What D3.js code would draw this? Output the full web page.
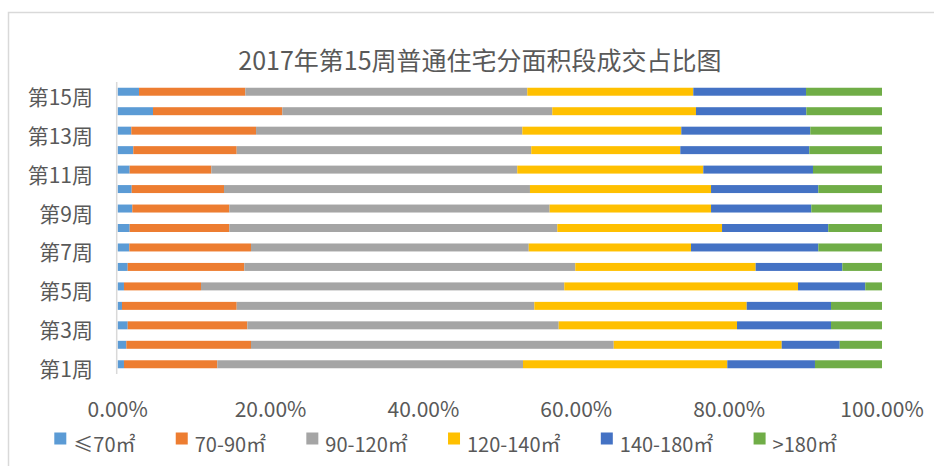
<!DOCTYPE html>
<html>
<head>
<meta charset="utf-8">
<script src="https://cdn.jsdelivr.net/npm/d3@7"></script>
<style>
  html, body { margin: 0; padding: 0; background: #fff; }
  svg text { font-family: "Noto Sans CJK SC", "Noto Sans", sans-serif; fill: #595959; }
</style>
</head>
<body>
<svg width="934" height="466"></svg>
<script>
// weeks, bottom (第1周) to top (第15周)
const weeks = ['第1周','第2周','第3周','第4周','第5周','第6周','第7周','第8周',
               '第9周','第10周','第11周','第12周','第13周','第14周','第15周'];
const seriesNames = ['≤70㎡', '70-90㎡', '90-120㎡', '120-140㎡', '140-180㎡', '>180㎡'];
const colors = ['#5B9BD5', '#ED7D31', '#A5A5A5', '#FFC000', '#4472C4', '#70AD47'];

// share per week (%), same order as weeks
const s70     = [0.82, 1.13, 1.31, 0.56, 0.82, 1.31, 1.52, 1.57, 1.91, 1.83, 1.57, 2.04, 1.78, 4.62, 2.79];
const s70_90  = [12.21, 16.31, 15.65, 15.01, 10.08, 15.25, 15.92, 13.03, 12.69, 12.08, 10.68, 13.53, 16.32, 16.92, 13.91];
const s90_120 = [40.00, 47.46, 40.74, 38.94, 47.53, 43.31, 36.34, 42.92, 41.92, 40.03, 40.03, 38.54, 34.84, 35.32, 36.89];
const s120_140= [26.73, 21.98, 23.33, 27.79, 30.58, 23.60, 21.23, 21.55, 21.11, 23.69, 24.34, 19.50, 20.80, 18.80, 21.72];
const s140_180= [11.47, 7.59, 12.30, 11.03, 8.80, 11.34, 16.66, 13.90, 13.12, 14.04, 14.35, 16.88, 16.88, 14.44, 14.75];
const s180    = [8.77, 5.53, 6.67, 6.67, 2.19, 5.19, 8.33, 7.03, 9.25, 8.33, 9.03, 9.51, 9.38, 9.90, 9.94];

const xTicks = [0, 0.2, 0.4, 0.6, 0.8, 1];

/*
 * build stacked rows (normalised to 100%)
 */
const allSeries = [s70, s70_90, s90_120, s120_140, s140_180, s180];
const rows = weeks.map(function(w, i) {
  const row = { week: w };
  let total = 0;
  allSeries.forEach(function(s) { total += s[i]; });
  seriesNames.forEach(function(n, k) { row[n] = allSeries[k][i] / total; });
  return row;
});
const stacked = d3.stack().keys(seriesNames)(rows);

const $svg = d3.select('svg');

// chart frame
$svg.append('rect')
  .attr('x', 8.5).attr('y', 12.5)
  .attr('width', 940).attr('height', 470)
  .attr('fill', 'none')
  .attr('stroke', '#d9d9d9')
  .attr('stroke-width', 1.5);

// title
$svg.append('text')
  .attr('x', 480).attr('y', 70)
  .attr('text-anchor', 'middle')
  .style('font-size', '25px')
  .text('2017年第15周普通住宅分面积段成交占比图');

const x = d3.scaleLinear().domain([0, 1]).range([117.7, 882]);
const y = d3.scaleBand()
  .domain(weeks.slice().reverse())
  .range([82, 374])
  .paddingInner(0.59)
  .paddingOuter(0.295);

// bars
const $layers = $svg.append('g').selectAll('g')
  .data(stacked)
  .enter().append('g')
    .attr('fill', function(d, i) { return colors[i]; });

$layers.selectAll('rect')
  .data(function(d) { return d; })
  .enter().append('rect')
    .attr('x', function(d) { return x(d[0]); })
    .attr('width', function(d) { return x(d[1]) - x(d[0]); })
    .attr('y', function(d) { return y(d.data.week); })
    .attr('height', y.bandwidth());

// y axis line
$svg.append('line')
  .attr('x1', 116.7).attr('x2', 116.7)
  .attr('y1', 82).attr('y2', 374)
  .attr('stroke', '#d9d9d9')
  .attr('stroke-width', 1.5);

// y labels (every other week)
$svg.append('g').selectAll('text')
  .data(weeks.filter(function(w, i) { return i % 2 === 0; }))
  .enter().append('text')
    .attr('x', 93)
    .attr('y', function(d) { return y(d) + y.bandwidth() / 2 + 13; })
    .attr('text-anchor', 'end')
    .style('font-size', '21px')
    .text(function(d) { return d; });

// x tick labels
$svg.append('g').selectAll('text')
  .data(xTicks)
  .enter().append('text')
    .attr('x', function(d) { return x(d); })
    .attr('y', 417)
    .attr('text-anchor', 'middle')
    .style('font-size', '21px')
    .text(d3.format('.2%'));

// legend
const $legend = $svg.append('g');
const $items = $legend.selectAll('g')
  .data(seriesNames)
  .enter().append('g');

$items.append('rect')
  .attr('width', 12).attr('height', 12)
  .attr('y', 432.5)
  .attr('fill', function(d, i) { return colors[i]; });

$items.append('text')
  .attr('x', 19)
  .attr('y', 451.5)
  .style('font-size', '20px')
  .text(function(d) { return d; });

const widths = [];
$items.each(function() { widths.push(this.getBBox().width); });
const legendStart = 54.3, legendEnd = 837;
const gap = (legendEnd - legendStart - d3.sum(widths)) / (widths.length - 1);
let cx = legendStart;
$items.attr('transform', function(d, i) {
  const t = 'translate(' + cx + ',0)';
  cx += widths[i] + gap;
  return t;
});
</script>
</body>
</html>
